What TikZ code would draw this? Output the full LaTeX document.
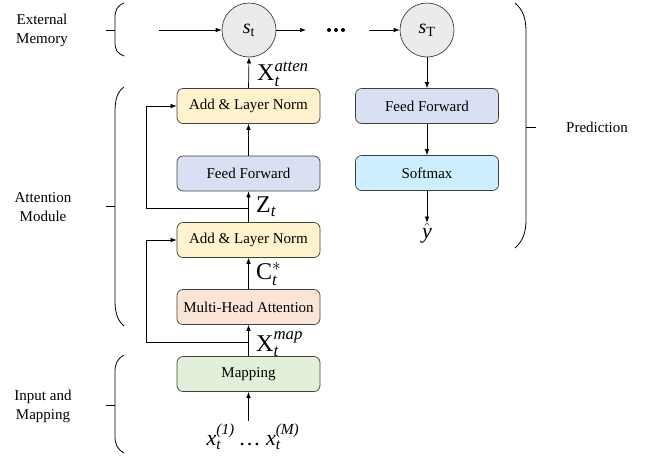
\documentclass[tikz,border=0pt]{standalone}
\usepackage{amsmath}
\usepackage{fontspec}
\setmainfont{Liberation Serif}
\usetikzlibrary{arrows.meta}
\definecolor{cyel}{HTML}{FFF2CC}
\definecolor{cfeed}{HTML}{DAE0F3}
\definecolor{cpeach}{HTML}{FBE5D6}
\definecolor{cgreen}{HTML}{E2F0D9}
\definecolor{cblue}{HTML}{CDEEFD}
\definecolor{cgray}{HTML}{EBEBEB}
\definecolor{cline}{HTML}{404040}
\begin{document}
\begin{tikzpicture}[x=1pt,y=-1pt,
  box/.style={draw=cline, rounded corners=6pt, minimum width=143pt, minimum height=35pt, inner sep=0pt, font=\fontsize{15}{18}\selectfont, line width=0.7pt},
  mem/.style={circle, draw=cline, fill=cgray, minimum size=54pt, inner sep=0pt, line width=0.7pt, font=\fontsize{20}{24}\selectfont},
  arr/.style={-{Latex[length=6pt,width=4.5pt]}, line width=0.7pt},
  lbl/.style={font=\fontsize{15}{19}\selectfont, align=center},
  big/.style={font=\fontsize{24}{28}\selectfont, anchor=west, inner sep=0pt},
  brace/.style={line width=0.8pt}]
\useasboundingbox (0,0) rectangle (652,456);

% memory circles
\node[mem] (st) at (249,30) {\textit{s}$_{\textrm{t}}$};
\node[mem] (sT) at (427,30) {\textit{s}$_{\textrm{T}}$};
\coordinate (minL) at (159,30);
\coordinate (mout) at (306,30);
\coordinate (min2) at (369,30);
\draw[arr] (minL) -- (st);
\draw[arr] (st) -- (mout);
\draw[arr] (min2) -- (sT);
\fill (329,30) circle (2pt) (336,30) circle (2pt) (343,30) circle (2pt);

% left column
\node[box, fill=cyel] (an1) at (248.5,106) {Add \& Layer Norm};
\node[box, fill=cfeed] (ff1) at (248.5,173.5) {Feed Forward};
\node[box, fill=cyel] (an2) at (248.5,240) {Add \& Layer Norm};
\node[box, fill=cpeach] (mha) at (248.5,307) {Multi-Head Attention};
\node[box, fill=cgreen] (map) at (248.5,374) {Mapping};

% right column
\node[box, fill=cfeed] (ff2) at (427,106) {Feed Forward};
\node[box, fill=cblue] (sm) at (427,173) {Softmax};
\node[font=\fontsize{22}{26}\selectfont, inner sep=0pt] (yh) at (427,233) {$\hat{\textit{y}}$};

% labels on arrows
\node[big] (xatt) at (257,74) {X$_{\textit{t}}^{\textit{atten}}$};
\node[big] (zt) at (256,207) {Z$_{\textit{t}}$};
\node[big] (ct) at (256,274) {C$_{\textit{t}}^{*}$};
\node[big] (xmap) at (256,344) {X$_{\textit{t}}^{\textit{map}}$};
\node[font=\fontsize{22}{26}\selectfont, inner sep=0pt] (xin) at (253,437) {\textit{x}$_{\textit{t}}^{\textit{(1)}}$\,\ldots\ \textit{x}$_{\textit{t}}^{\textit{(M)}}$};

% main flow
\coordinate (inbot) at (248.5,421);
\draw[arr] (inbot) -- (map.south);
\draw[arr] (map.north) -- (mha.south);
\draw[arr] (mha.north) -- (an2.south);
\draw[arr] (an2.north) -- (ff1.south);
\draw[arr] (ff1.north) -- (an1.south);
\draw[arr] (an1.north) -- (st.south);
\draw[arr] (sT.south) -- (ff2.north);
\draw[arr] (ff2.south) -- (sm.north);
\draw[arr] (sm.south) -- (yh.north);

% residual connections
\coordinate (rz) at (248.5,208);
\coordinate (rm) at (248.5,342);
\draw[arr] (rz) -- (146,208) |- (an1.west);
\draw[arr] (rm) -- (146,342) |- (an2.west);

% braces
\draw[brace] (124,3) .. controls (117,6) and (115,10) .. (115,18) -- (115,42) .. controls (115,50) and (117,53) .. (124,56);
\draw[brace] (106,30) -- (115,30);
\draw[brace] (124,87) .. controls (117,92) and (115,100) .. (115,112) -- (115,300) .. controls (115,312) and (117,320) .. (124,326);
\draw[brace] (106,206) -- (115,206);
\draw[brace] (124,355) .. controls (117,359) and (115,364) .. (115,372) -- (115,436) .. controls (115,444) and (117,449) .. (124,453);
\draw[brace] (106,405) -- (115,405);
\draw[brace] (515,3) .. controls (523,10) and (526,18) .. (526,32) -- (526,220) .. controls (526,232) and (523,241) .. (515,248);
\draw[brace] (526,127) -- (536,127);

% group labels
\node[lbl] (lmem) at (42,30) {External\\Memory};
\node[lbl] (latt) at (43,207) {Attention\\Module};
\node[lbl] (linp) at (43,406) {Input and\\Mapping};
\node[lbl] (lpred) at (597,127) {Prediction};
\end{tikzpicture}
\end{document}
